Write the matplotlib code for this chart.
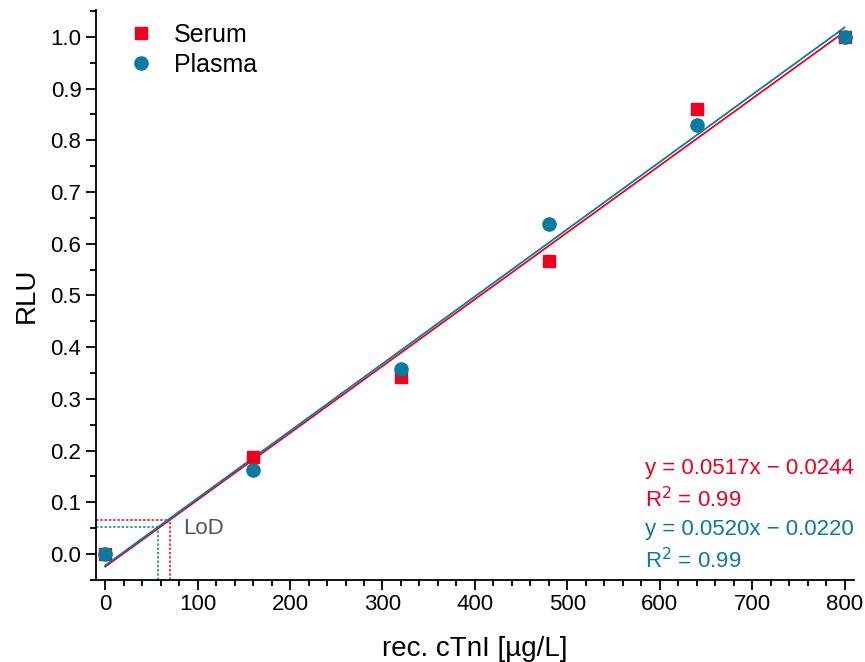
import numpy as np
import matplotlib.pyplot as plt
from matplotlib.ticker import MultipleLocator

plt.rcParams['font.family'] = ['Liberation Sans', 'DejaVu Sans']

conc = [0, 160, 320, 480, 640, 800]
serum = [0.0, 0.188, 0.343, 0.566, 0.860, 1.0]
plasma = [0.0, 0.163, 0.358, 0.639, 0.830, 1.0]

# fit parameters (slope given per 40 ug/L step)
serum_fit = (0.0517, -0.0244)
plasma_fit = (0.0520, -0.0220)
step = 40.0
serum_lod = 70
plasma_lod = 57

red = '#F0001E'
blue = '#0A7AA0'

fig = plt.figure(figsize=(8.65, 6.62), dpi=100)
ax = fig.add_axes([0.111, 0.124, 0.876, 0.861])

xs = np.array([0, 800])
for fit, col in [(serum_fit, red), (plasma_fit, blue)]:
  ax.plot(xs, fit[0] * xs / step + fit[1], color=col, lw=1.3, zorder=2)

ax.plot(conc, serum, 's', color=red, ms=8.5, label='Serum', zorder=3)
ax.plot(conc, plasma, 'o', color=blue, ms=9.5, label='Plasma', zorder=3)

# limit of detection guides
for fit, lod, col in [(serum_fit, serum_lod, red), (plasma_fit, plasma_lod, blue)]:
  yl = fit[0] * lod / step + fit[1]
  ax.plot([-10, lod], [yl, yl], ls=(0, (1.6, 1.2)), color=col, lw=1.1, zorder=1)
  ax.plot([lod, lod], [-0.05, yl], ls=(0, (1.6, 1.2)), color=col, lw=1.1, zorder=1)
ax.text(84, 0.05, 'LoD', fontsize=16, color='#555555', va='center')

eq_x = 584
ax.text(eq_x, 0.166, 'y = 0.0517x \u2212 0.0244', color=red, fontsize=16, va='center')
ax.text(eq_x, 0.106, 'R$^2$ = 0.99', color=red, fontsize=16, va='center')
ax.text(eq_x, 0.048, 'y = 0.0520x \u2212 0.0220', color=blue, fontsize=16, va='center')
ax.text(eq_x, -0.012, 'R$^2$ = 0.99', color=blue, fontsize=16, va='center')

ax.set_xlim(-10, 810)
ax.set_ylim(-0.05, 1.052)
ax.xaxis.set_major_locator(MultipleLocator(100))
ax.xaxis.set_minor_locator(MultipleLocator(20))
ax.yaxis.set_major_locator(MultipleLocator(0.1))
ax.yaxis.set_minor_locator(MultipleLocator(0.05))
ax.yaxis.set_major_formatter(plt.FuncFormatter(lambda v, p: f'{v:.1f}'))
ax.tick_params(which='major', length=7, width=1.3, labelsize=16, direction='out')
ax.tick_params(which='minor', length=4, width=1.3, direction='out')
for s in ['top', 'right']:
  ax.spines[s].set_visible(False)
for s in ['left', 'bottom']:
  ax.spines[s].set_linewidth(1.3)

ax.set_xlabel('rec. cTnI [\u00b5g/L]', fontsize=20, labelpad=15)
ax.set_ylabel('RLU', fontsize=20, labelpad=8)

ax.legend(loc='upper left', bbox_to_anchor=(0.02, 1.008), frameon=False, fontsize=18,
          handlelength=1.0, handletextpad=0.8, labelspacing=0.25, borderaxespad=0.3)

fig.savefig('out.png', dpi=100)
